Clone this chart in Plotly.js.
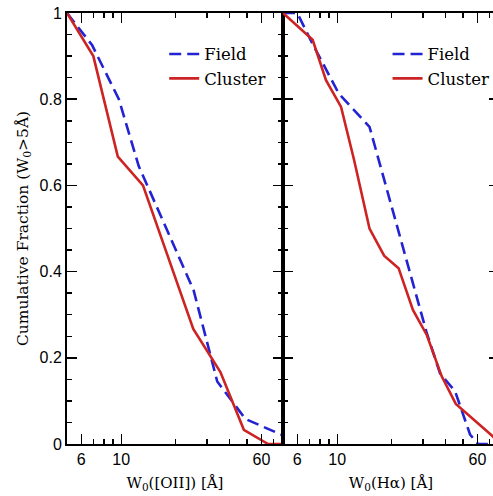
<!DOCTYPE html>
<html>
<head>
<meta charset="utf-8">
<script src="https://cdn.plot.ly/plotly-3.0.1.min.js"></script>
<style>
html,body{margin:0;padding:0;overflow:hidden;background:#fff;}
#chart{width:500px;height:496px;}
</style>
</head>
<body>
<div id="chart"></div>
<script>
// Left panel: W0([OII])
const oiiFieldX   = [5, 6.9, 9.7, 12.5, 25.2, 34.1, 48.9, 79];
const oiiFieldY   = [1, 0.925, 0.80, 0.645, 0.357, 0.145, 0.058, 0.02];
const oiiClusterX = [5, 7.0, 9.57, 13.2, 25.1, 35.5, 47.9, 65.3, 79];
const oiiClusterY = [1, 0.90, 0.667, 0.60, 0.267, 0.167, 0.033, 0, 0];
// Right panel: W0(Halpha)
const haFieldX   = [5, 6.0, 7.2, 10.2, 15.1, 31.4, 37.2, 45.1, 54.6, 60.5, 79];
const haFieldY   = [1, 1, 0.933, 0.813, 0.736, 0.257, 0.164, 0.122, 0.022, 0, 0];
const haClusterX = [5, 7.3, 8.66, 10.5, 12.4, 15.1, 18.2, 21.9, 26.3, 31.4, 38, 45.5, 72.9, 79];
const haClusterY = [1, 0.938, 0.844, 0.782, 0.659, 0.50, 0.437, 0.408, 0.311, 0.253, 0.157, 0.093, 0.018, 0.0];

const xTickVals = [6, 10, 60];
const xTickText = ['6', '10', '60'];
const xMinorVals = [7, 8, 9, 20, 30, 40, 50, 70];
const yTickVals = [0, 0.2, 0.4, 0.6, 0.8, 1];
const yTickText = ['0', '0.2', '0.4', '0.6', '0.8', '1'];

const blue = 'rgb(35,35,210)';
const red = 'rgb(205,35,35)';
const dash = '12px,6px';
const serif = 'DejaVu Serif, serif';

const traces = [
  {x: oiiFieldX, y: oiiFieldY, xaxis: 'x', yaxis: 'y', mode: 'lines', name: 'Field',
   line: {color: blue, width: 2.6, dash: dash}, legend: 'legend'},
  {x: oiiClusterX, y: oiiClusterY, xaxis: 'x', yaxis: 'y', mode: 'lines', name: 'Cluster',
   line: {color: red, width: 2.6}, legend: 'legend'},
  {x: haFieldX, y: haFieldY, xaxis: 'x2', yaxis: 'y2', mode: 'lines', name: 'Field',
   line: {color: blue, width: 2.6, dash: dash}, legend: 'legend2'},
  {x: haClusterX, y: haClusterY, xaxis: 'x2', yaxis: 'y2', mode: 'lines', name: 'Cluster',
   line: {color: red, width: 2.6}, legend: 'legend2'}
];

const xr = [Math.log10(5), Math.log10(79)];
function xAxis(domain, anchor, title) {
  return {
    type: 'log', domain: domain, anchor: anchor, range: xr,
    showline: true, linecolor: '#000', linewidth: 2, mirror: 'allticks',
    ticks: 'inside', ticklen: 10, tickwidth: 1.5, tickcolor: '#000',
    tickmode: 'array', tickvals: xTickVals, ticktext: xTickText,
    tickfont: {family: 'Liberation Sans, Arial, sans-serif', size: 16, color: '#000'},
    minor: {tickmode: 'array', tickvals: xMinorVals, ticks: 'inside', ticklen: 5, tickwidth: 1.5, tickcolor: '#000', showgrid: false},
    showgrid: false, zeroline: false,
    title: {text: title, font: {family: serif, size: 15, color: '#000'}, standoff: 10}
  };
}
function yAxis(anchor, labels, title) {
  const a = {
    anchor: anchor, domain: [0, 1], range: [0, 1],
    showline: true, linecolor: '#000', linewidth: 2, mirror: 'allticks',
    ticks: 'inside', ticklen: 10, tickwidth: 1.5, tickcolor: '#000',
    tickmode: 'array', tickvals: yTickVals, ticktext: yTickText,
    showticklabels: labels,
    tickfont: {family: 'Liberation Sans, Arial, sans-serif', size: 16, color: '#000'},
    minor: {tick0: 0, dtick: 0.05, ticks: 'inside', ticklen: 5, tickwidth: 1.5, tickcolor: '#000', showgrid: false},
    showgrid: false, zeroline: false
  };
  if (title) a.title = {text: title, font: {family: serif, size: 15.5, color: '#000'}, standoff: 7};
  return a;
}

const legendBase = {
  font: {family: serif, size: 16.5, color: '#000'},
  bgcolor: 'rgba(0,0,0,0)', borderwidth: 0,
  xanchor: 'left', yanchor: 'top', tracegroupgap: 0, itemwidth: 30
};

const layout = {
  width: 500, height: 496,
  margin: {l: 67, r: 1, t: 13, b: 52},
  paper_bgcolor: '#fff', plot_bgcolor: '#fff',
  showlegend: true,
  xaxis: xAxis([0, 0.5], 'y', 'W<sub>0</sub>([OII]) [Å]'),
  xaxis2: xAxis([0.5, 1], 'y2', 'W<sub>0</sub>(Hα) [Å]'),
  yaxis: yAxis('x', true, 'Cumulative Fraction (W<sub>0</sub>&gt;5Å)'),
  yaxis2: yAxis('x2', false, null),
  legend: Object.assign({}, legendBase, {x: 0.225, y: 0.945}),
  legend2: Object.assign({}, legendBase, {x: 0.742, y: 0.945})
};

Plotly.newPlot('chart', traces, layout, {staticPlot: true, displayModeBar: false});
</script>
</body>
</html>
